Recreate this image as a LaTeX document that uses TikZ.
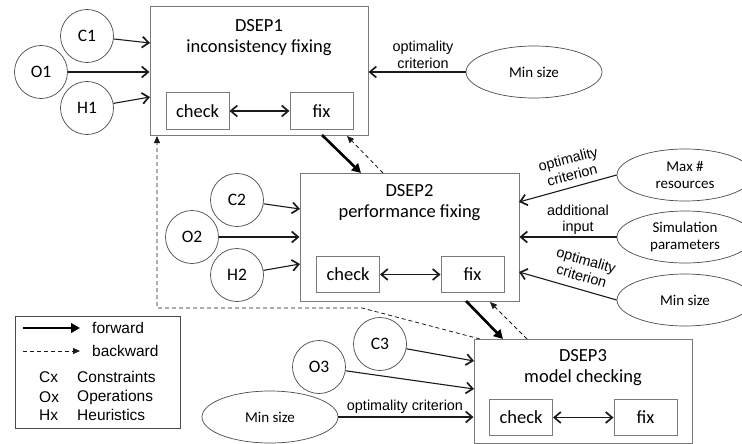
\documentclass[tikz,border=0pt]{standalone}
\usepackage{fontspec}
\setmainfont{Carlito}
\newfontfamily\labelfont{Liberation Sans}
\usetikzlibrary{arrows.meta,shapes.geometric}
\definecolor{boxgray}{HTML}{7A7A7A}
\definecolor{ringgray}{HTML}{4A4A4A}
\definecolor{ink}{HTML}{1A1A1A}
\tikzset{
  dsep/.style={draw=boxgray, line width=1pt, fill=white, inner sep=0pt},
  title/.style={align=center, font=\fontsize{18.5}{21}\selectfont, inner sep=0pt},
  part/.style={draw=boxgray, line width=1pt, minimum width=63pt, minimum height=36pt, inner sep=0pt, font=\fontsize{18.5}{21}\selectfont},
  ring/.style={circle, draw=ringgray, line width=0.7pt, minimum size=53pt, inner sep=0pt, font=\fontsize{17.5}{19}\selectfont},
  oval/.style={ellipse, draw=ringgray, line width=0.7pt, minimum width=136pt, minimum height=52pt, inner sep=0pt, align=center, font=\fontsize{15}{17}\selectfont},
  barb/.tip={Straight Barb[length=6.5pt,width=11pt,line width=1.7pt]},
  feed/.style={draw=ink, line width=1.1pt, -barb},
  both/.style={draw=ink, line width=1.3pt, barb-barb},
  fwd/.style={draw=black, line width=2.6pt, -{Triangle[length=9pt,width=9.5pt]}},
  bwd/.style={draw=ink, line width=0.8pt, dash pattern=on 4pt off 3pt, -{Triangle[length=7pt,width=6pt]}},
  lbl/.style={font=\labelfont\fontsize{14.4}{16.5}\selectfont, align=center, inner sep=0pt},
  keytext/.style={font=\labelfont\fontsize{15.5}{18}\selectfont, anchor=west, inner sep=0pt},
}
\begin{document}
\begin{tikzpicture}[x=1pt,y=-1pt]
\useasboundingbox (0,0) rectangle (742,444);

% ---------- DSEP1 ----------
\node[dsep, minimum width=218pt, minimum height=128pt] (d1) at (259,71) {};
\node[title] (t1) at (259,37.5) {DSEP1\\inconsistency fixing};
\node[part] (check1) at (197.5,111) {check};
\node[part] (fix1) at (321.5,111) {fix};
\draw[both] (check1) -- (fix1);

\node[ring] (C1) at (87,36) {C1};
\node[ring] (O1) at (41,72) {O1};
\node[ring] (H1) at (87,108) {H1};
\coordinate (d1c) at (150,43);
\coordinate (d1h) at (150,97);
\draw[feed] (C1) -- (d1c);
\draw[feed] (O1) -- (d1.west |- O1);
\draw[feed] (H1) -- (d1h);

\node[oval] (min1) at (534,72) {Min size};
\draw[feed] (min1) -- (d1.east |- min1);
\node[lbl] (l1) at (423,55) {optimality\\criterion};

% ---------- DSEP2 ----------
\node[dsep, minimum width=219pt, minimum height=128pt] (d2) at (409.5,237) {};
\node[title] (t2) at (409.5,202.5) {DSEP2\\performance fixing};
\node[part] (check2) at (348,274.5) {check};
\node[part] (fix2) at (472.5,274.5) {fix};
\draw[both] (check2) -- (fix2);

\node[ring] (C2) at (237,200) {C2};
\node[ring] (O2) at (192,237) {O2};
\node[ring] (H2) at (237,275) {H2};
\coordinate (d2c) at (300,209);
\coordinate (d2h) at (300,264);
\draw[feed] (C2) -- (d2c);
\draw[feed] (O2) -- (d2.west |- O2);
\draw[feed] (H2) -- (d2h);

\node[oval] (maxr) at (685,175) {Max \#\\resources};
\node[oval] (sim) at (685,237) {Simulation\\parameters};
\node[oval] (min2) at (685,300) {Min size};
\coordinate (d2r1) at (519,202);
\coordinate (d2r3) at (519,272);
\draw[feed] (maxr.west) -- (d2r1);
\draw[feed] (sim) -- (d2.east |- sim);
\draw[feed] (min2.west) -- (d2r3);
\node[lbl, rotate=14.5] (l2) at (570,167) {optimality\\criterion};
\node[lbl] (l3) at (578,220) {additional\\input};
\node[lbl, rotate=-16] (l4) at (584,268) {optimality\\criterion};

% ---------- DSEP3 ----------
\node[dsep, minimum width=218pt, minimum height=104pt] (d3) at (583,391) {};
\node[title] (t3) at (583,368) {DSEP3\\model checking};
\node[part] (check3) at (521,417.5) {check};
\node[part] (fix3) at (645.5,417.5) {fix};
\draw[both] (check3) -- (fix3);

\node[ring] (C3) at (380,344) {C3};
\node[ring] (O3) at (319,367) {O3};
\node[oval] (min3) at (270,417) {Min size};
\coordinate (d3c) at (474,361);
\coordinate (d3o) at (474,389);
\draw[feed] (C3) -- (d3c);
\draw[feed] (O3) -- (d3o);
\draw[feed] (min3) -- (d3.west |- min3);
\node[lbl, anchor=south] (l5) at (405,414) {optimality criterion};

% ---------- flow between the stages ----------
\coordinate (f1a) at (322,135);
\coordinate (f1b) at (361,173);
\coordinate (b1a) at (383,173);
\coordinate (b1b) at (347,136);
\coordinate (f2a) at (466,301);
\coordinate (f2b) at (503,339);
\coordinate (b2a) at (527,339);
\coordinate (b2b) at (490,302);
\draw[fwd] (f1a) -- (f1b);
\draw[bwd] (b1a) -- (b1b);
\draw[fwd] (f2a) -- (f2b);
\draw[bwd] (b2a) -- (b2b);

\coordinate (b3a) at (480,339);
\coordinate (b3k) at (362,308);
\coordinate (b3c) at (157,308);
\coordinate (b3b) at (157,136);
\draw[bwd] (b3a) -- (b3k) -- (b3c) -- (b3b);

% ---------- legend ----------
\node[draw=ringgray, line width=0.8pt, minimum width=165pt, minimum height=112pt, inner sep=0pt] (key) at (97.5,372) {};
\coordinate (kf1) at (23,328);
\coordinate (kf2) at (80,328);
\coordinate (kb1) at (23,351);
\coordinate (kb2) at (80,351);
\draw[fwd, line width=2.2pt] (kf1) -- (kf2);
\draw[bwd] (kb1) -- (kb2);
\node[keytext] (kfw) at (92,328) {forward};
\node[keytext] (kbw) at (92,351) {backward};
\node[keytext] (kc) at (39,377) {Cx};
\node[keytext] (ko) at (39,397) {Ox};
\node[keytext] (kh) at (39,415) {Hx};
\node[keytext] (kct) at (77,377) {Constraints};
\node[keytext] (kop) at (77,397) {Operations};
\node[keytext] (khe) at (77,415) {Heuristics};
\end{tikzpicture}
\end{document}
